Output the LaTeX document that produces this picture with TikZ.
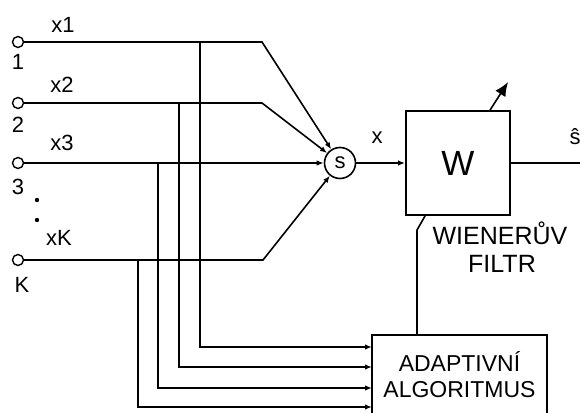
\documentclass[tikz,border=0pt]{standalone}
\usepackage{fontspec}
\setmainfont{Liberation Sans}
\usetikzlibrary{arrows.meta,positioning,calc}

\begin{document}
\begin{tikzpicture}[x=1pt,y=1pt,line width=1.6pt,
  >={Latex[length=7pt,width=5.5pt]},
  font=\fontsize{22}{26}\selectfont,
  term/.style={circle,draw,line width=1.4pt,minimum size=11pt,inner sep=0pt},
  blok/.style={draw,line width=1.9pt,inner sep=0pt}]
\useasboundingbox (0,0) rectangle (580,412);
% vstupy
\node[term] (in1) at (18,370) {};
\node[term] (in2) at (18,309) {};
\node[term] (in3) at (18,249) {};
\node[term] (inK) at (18,152) {};
\node at (18,350) {1};
\node at (18,287) {2};
\node at (18,225) {3};
\node at (22,127) {K};
\node at (63,387) {x1};
\node at (62,327) {x2};
\node at (62,269) {x3};
\node at (59,174) {xK};
\fill (37,212) circle (2.2pt);
\fill (37,192) circle (2.2pt);
% bloky
\node[circle,draw,minimum size=31pt,inner sep=0pt] (sum) at (340,249) {s};
\node[blok,minimum size=104pt,font=\fontsize{35}{40}\selectfont] (W) at (458,249) {W};
\node[blok,minimum width=175pt,minimum height=80pt,align=center,
  font=\fontsize{23}{26}\selectfont] (ada) at (459.5,37) {ADAPTIVNÍ\\ALGORITMUS};
\node[anchor=base,font=\fontsize{25}{28}\selectfont] (wien) at (500,167) {WIENERŮV};
\node[anchor=base,font=\fontsize{25}{28}\selectfont] (filtr) at (502,139) {FILTR};
% vstupy do souctu
\coordinate (b1) at (262,370);
\coordinate (b2) at (262,309);
\coordinate (bK) at (263,152);
\draw[->] (in1) -- (b1) -- (sum);
\draw[->] (in2) -- (b2) -- (sum);
\draw[->] (in3) -- (sum);
\draw[->] (inK) -- (bK) -- (sum);
% odbocky do algoritmu
\coordinate (t1) at (200,370);
\coordinate (t2) at (179,309);
\coordinate (t3) at (158,249);
\coordinate (tK) at (138,152);
\coordinate (a1) at (372,65);
\coordinate (a2) at (372,45);
\coordinate (a3) at (372,24);
\coordinate (aK) at (372,5);
\draw[->] (t1) |- (a1);
\draw[->] (t2) |- (a2);
\draw[->] (t3) |- (a3);
\draw[->] (tK) |- (aK);
% filtr
\draw[->] (sum) -- (W);
\node at (377,274) {x};
\coordinate (out) at (580,249);
\draw (W) -- (out);
\node at (575,275) {ŝ};
\coordinate (fb) at (417,182);
\draw (ada.north -| fb) -- (fb) -- ($(W.south west)+(20,0)$);
\draw[->,>={Latex[length=14pt,width=12pt]}] ($(W.north west)+(85,0)$) -- ++(18,28);
\end{tikzpicture}
\end{document}
